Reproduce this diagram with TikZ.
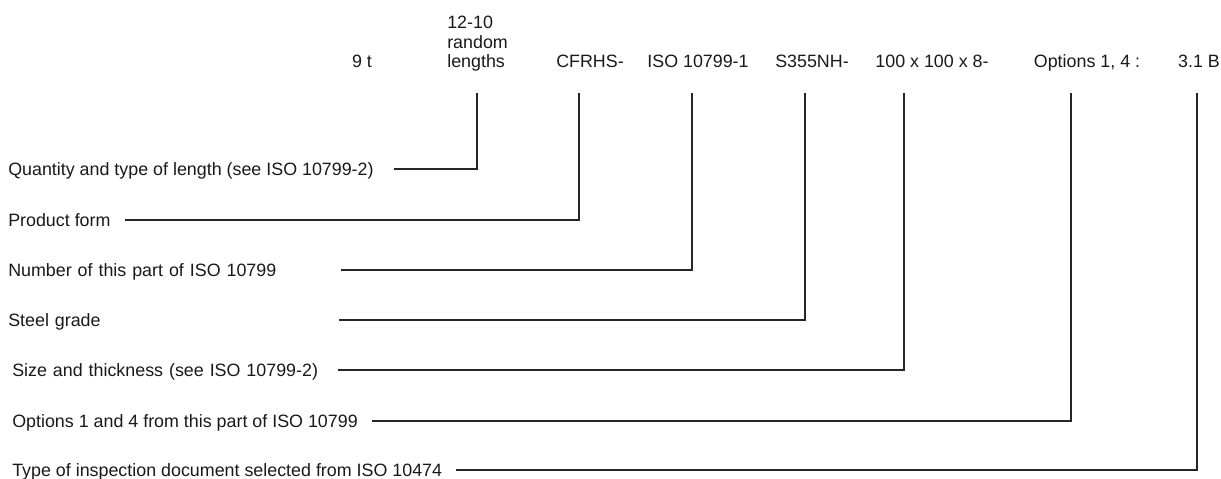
\documentclass[tikz,border=0pt]{standalone}
\usepackage{fontspec}
\setmainfont{Liberation Sans}
\newcommand{\tagfont}{\fontsize{12.7}{14.2}\selectfont}

\begin{document}
\begin{tikzpicture}[x=0.025cm,y=-0.025cm,
    item/.style={anchor=base,inner sep=0pt,font=\tagfont,text=black!90},
    lbl/.style={anchor=west,inner xsep=0pt,inner ysep=0pt,text height=9pt,
      text depth=0pt,font=\tagfont,text=black!90},
    leader/.style={line width=1.4pt,black!85,shorten <=0.35cm}]

  \useasboundingbox (0,0) rectangle (1221,479);

  % --- designation, top row ---
  \node[item] (mass) at (362,68) {9 t};
  \node[item,anchor=base west,align=left] (len) at (447,68) {12-10\\random\\lengths};
  \node[item] (form) at (590,68) {CFRHS-};
  \node[item] (part) at (698,68) {ISO 10799-1};
  \node[item] (grade) at (812,68) {S355NH-};
  \node[item] (size) at (932,68) {100 x 100 x 8-};
  \node[item] (opt) at (1087,68) {Options 1, 4 :};
  \node[item] (doc) at (1199,68) {3.1 B};

  % upper ends of the leaders
  \coordinate (lentip) at (477,93);
  \coordinate (formtip) at (579,93);
  \coordinate (parttip) at (692,93);
  \coordinate (gradetip) at (805,93);
  \coordinate (sizetip) at (904,93);
  \coordinate (opttip) at (1071,93);
  \coordinate (doctip) at (1197,93);

  % --- explanations, left column ---
  \node[lbl] (lenlbl) at (8,169) {Quantity and type of length (see ISO 10799-2)};
  \node[lbl] (formlbl) at (8,220) {Product form};
  \node[lbl,text width=7.95cm] (partlbl) at (8,270) {Number of this part of ISO 10799};
  \node[lbl,text width=7.9cm] (gradelbl) at (8,320) {Steel grade};
  \node[lbl,text width=7.775cm] (sizelbl) at (12,370) {Size and thickness (see ISO 10799-2)};
  \node[lbl] (optlbl) at (12,421) {Options 1 and 4 from this part of ISO 10799};
  \node[lbl] (doclbl) at (12,470) {Type of inspection document selected from ISO 10474};

  % --- leaders ---
  \draw[leader,shorten <=0.5cm] (lenlbl.east) -| (lentip);
  \foreach \n in {form,part,grade,size,opt,doc}
    \draw[leader] (\n lbl.east) -| (\n tip);

\end{tikzpicture}
\end{document}
